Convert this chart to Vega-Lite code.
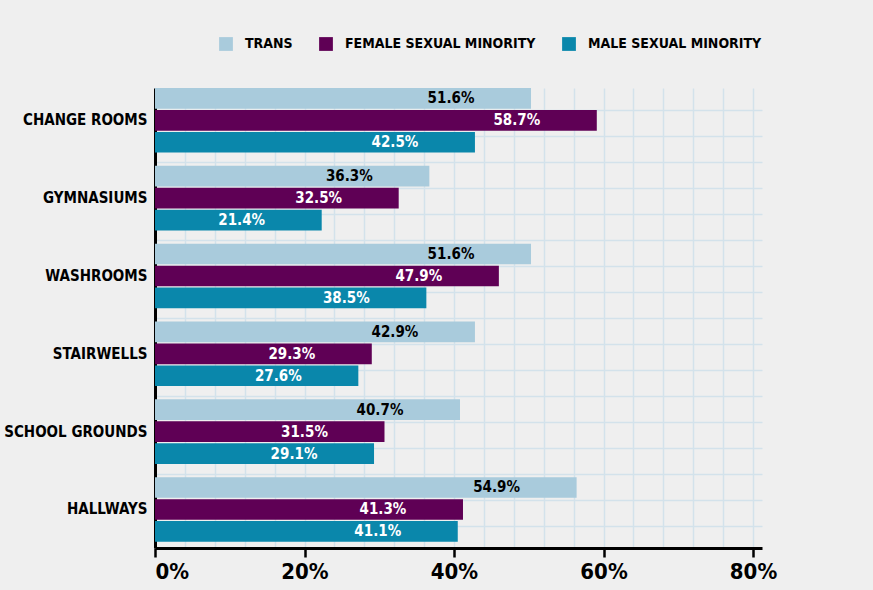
{
  "$schema": "https://vega.github.io/schema/vega-lite/v6.json",
  "width": 607,
  "height": 460,
  "autosize": "none",
  "padding": {"left": 155, "top": 88, "right": 111, "bottom": 42},
  "background": "#efefef",
  "config": {
    "view": {"stroke": null},
    "font": "DejaVu Sans Condensed, DejaVu Sans, sans-serif"
  },
  "data": {
    "values": [
      {"place": "CHANGE ROOMS", "group": "TRANS", "value": 50.3, "label": "51.6%"},
      {"place": "CHANGE ROOMS", "group": "FEMALE SEXUAL MINORITY", "value": 59.1, "label": "58.7%"},
      {"place": "CHANGE ROOMS", "group": "MALE SEXUAL MINORITY", "value": 42.8, "label": "42.5%"},
      {"place": "GYMNASIUMS", "group": "TRANS", "value": 36.7, "label": "36.3%"},
      {"place": "GYMNASIUMS", "group": "FEMALE SEXUAL MINORITY", "value": 32.6, "label": "32.5%"},
      {"place": "GYMNASIUMS", "group": "MALE SEXUAL MINORITY", "value": 22.3, "label": "21.4%"},
      {"place": "WASHROOMS", "group": "TRANS", "value": 50.3, "label": "51.6%"},
      {"place": "WASHROOMS", "group": "FEMALE SEXUAL MINORITY", "value": 46.0, "label": "47.9%"},
      {"place": "WASHROOMS", "group": "MALE SEXUAL MINORITY", "value": 36.3, "label": "38.5%"},
      {"place": "STAIRWELLS", "group": "TRANS", "value": 42.8, "label": "42.9%"},
      {"place": "STAIRWELLS", "group": "FEMALE SEXUAL MINORITY", "value": 29.0, "label": "29.3%"},
      {"place": "STAIRWELLS", "group": "MALE SEXUAL MINORITY", "value": 27.2, "label": "27.6%"},
      {"place": "SCHOOL GROUNDS", "group": "TRANS", "value": 40.8, "label": "40.7%"},
      {"place": "SCHOOL GROUNDS", "group": "FEMALE SEXUAL MINORITY", "value": 30.7, "label": "31.5%"},
      {"place": "SCHOOL GROUNDS", "group": "MALE SEXUAL MINORITY", "value": 29.3, "label": "29.1%"},
      {"place": "HALLWAYS", "group": "TRANS", "value": 56.4, "label": "54.9%"},
      {"place": "HALLWAYS", "group": "FEMALE SEXUAL MINORITY", "value": 41.2, "label": "41.3%"},
      {"place": "HALLWAYS", "group": "MALE SEXUAL MINORITY", "value": 40.5, "label": "41.1%"}
    ]
  },
  "layer": [
    {
      "mark": {"type": "point", "opacity": 0},
      "encoding": {
        "x": {
          "datum": 0, "type": "quantitative",
          "scale": {"domain": [0, 81.2]},
          "axis": {
            "orient": "top", "values": [0,4,8,12,16,20,24,28,32,36,40,44,48,52,56,60,64,68,72,76,80],
            "grid": true, "gridColor": "#d3e2eb", "gridWidth": 1.5,
            "labels": false, "ticks": false, "domain": false, "title": null
          }
        },
        "y": {
          "datum": 0, "type": "quantitative",
          "scale": {"domain": [0, 460], "reverse": true},
          "axis": {
            "orient": "right", "values": [22,48,74,100,126,152,178,204,230,256,282,308,334,360,386,412,438],
            "grid": true, "gridColor": "#d3e2eb", "gridWidth": 1.5,
            "labels": false, "ticks": false, "domain": false, "title": null
          }
        }
      }
    },
    {
      "encoding": {
        "y": {
          "field": "place", "type": "nominal",
          "sort": ["CHANGE ROOMS", "GYMNASIUMS", "WASHROOMS", "STAIRWELLS", "SCHOOL GROUNDS", "HALLWAYS"],
          "scale": {"paddingInner": 0.17, "paddingOuter": 0.04, "align": 0},
          "axis": {
            "title": null, "ticks": false, "domainColor": "black", "domainWidth": 3,
            "labelFontSize": 15, "labelFontWeight": "bold", "labelColor": "black", "labelPadding": 8, "labelLimit": 0
          }
        },
        "yOffset": {
          "field": "group", "type": "nominal",
          "sort": ["TRANS", "FEMALE SEXUAL MINORITY", "MALE SEXUAL MINORITY"],
          "scale": {"paddingInner": 0.06}
        },
        "x": {
          "field": "value", "type": "quantitative",
          "scale": {"domain": [0, 81.2]},
          "axis": {
            "title": null, "values": [0, 20, 40, 60, 80], "labelExpr": "datum.value + '%'",
            "grid": false, "domainColor": "black", "domainWidth": 3,
            "tickColor": "black", "tickWidth": 2.5, "tickSize": 9,
            "labelFontSize": 22, "labelFontWeight": "bold", "labelColor": "black", "labelPadding": 4, "labelDx": 8
          }
        }
      },
      "layer": [
        {
          "mark": {"type": "bar"},
          "encoding": {
            "color": {
              "field": "group", "type": "nominal",
              "scale": {
                "domain": ["TRANS", "FEMALE SEXUAL MINORITY", "MALE SEXUAL MINORITY"],
                "range": ["#a9cbdc", "#5f0055", "#0a87ab"]
              },
              "legend": {
                "title": null, "orient": "none", "direction": "horizontal",
                "legendX": 64, "legendY": -51,
                "symbolType": "square", "symbolSize": 190, "symbolStrokeWidth": 0,
                "labelFontSize": 14, "labelFontWeight": "bold", "labelColor": "black", "labelLimit": 0,
                "labelOffset": 12, "columnPadding": 26
              }
            }
          }
        },
        {
          "mark": {"type": "text", "align": "center", "baseline": "middle", "dx": -80, "fontSize": 15, "fontWeight": "bold"},
          "encoding": {
            "text": {"field": "label"},
            "color": {"condition": {"test": "datum.group === 'TRANS'", "value": "black"}, "value": "white"}
          }
        }
      ]
    }
  ],
  "resolve": {"scale": {"x": "independent", "y": "independent"}, "axis": {"x": "independent", "y": "independent"}}
}
